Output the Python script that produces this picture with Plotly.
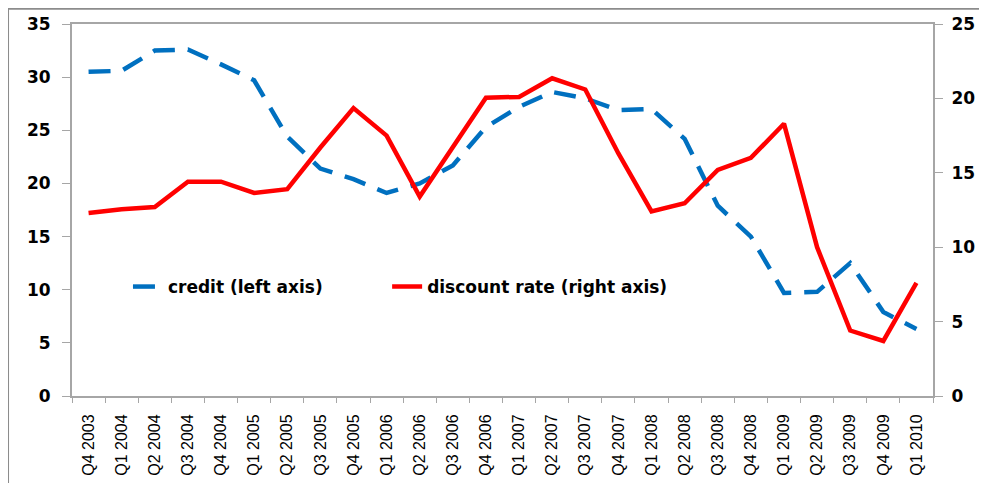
import plotly.graph_objects as go

quarters = ["Q4 2003", "Q1 2004", "Q2 2004", "Q3 2004", "Q4 2004", "Q1 2005", "Q2 2005",
            "Q3 2005", "Q4 2005", "Q1 2006", "Q2 2006", "Q3 2006", "Q4 2006", "Q1 2007",
            "Q2 2007", "Q3 2007", "Q4 2007", "Q1 2008", "Q2 2008", "Q3 2008", "Q4 2008",
            "Q1 2009", "Q2 2009", "Q3 2009", "Q4 2009", "Q1 2010"]

# credit growth, left axis
credit = [30.5, 30.6, 32.5, 32.6, 31.2, 29.7, 24.4, 21.4, 20.4, 19.1, 20.0, 21.7, 25.3,
          27.2, 28.6, 28.0, 26.9, 27.0, 24.2, 17.9, 15.0, 9.7, 9.8, 12.5, 7.9, 6.3]

# discount rate, right axis
discount = [12.3, 12.55, 12.7, 14.4, 14.4, 13.65, 13.9, 16.7, 19.35, 17.5, 13.4, 16.7, 20.05,
            20.1, 21.35, 20.6, 16.3, 12.4, 12.95, 15.2, 16.0, 18.3, 10.0, 4.4, 3.7, 7.6]

axis_grey = "#a6a6a6"
bold_font = dict(family="DejaVu Sans", size=17, color="black", weight="bold")
legend_style = dict(
    orientation="h", y=0.293, xanchor="left", yanchor="middle",
    bgcolor="rgba(0,0,0,0)", font=bold_font,
)

fig = go.Figure()
fig.add_trace(go.Scatter(
    x=quarters, y=credit, name="credit (left axis)", mode="lines",
    line=dict(color="#0070C0", width=4.5, dash="22px,13px"), legend="legend",
))
fig.add_trace(go.Scatter(
    x=quarters, y=discount, name="discount rate (right axis)", mode="lines",
    line=dict(color="#FF0000", width=4.5), yaxis="y2", legend="legend2",
))

# page body has an 8px margin, so the figure is sized/margined to land the plot at 72..933 x 24..396
fig.update_layout(
    width=979, height=475,
    margin=dict(l=64, r=54, t=16, b=87),
    paper_bgcolor="white", plot_bgcolor="white",
    showlegend=True,
    legend=dict(x=0.065, **legend_style),
    legend2=dict(x=0.366, **legend_style),
    xaxis=dict(
        type="category", range=[-0.5, 25.5], automargin=False, showgrid=False,
        showline=True, linecolor=axis_grey, linewidth=2,
        mirror=True, ticks="outside", tickson="boundaries", ticklen=5, tickcolor=axis_grey,
        tickangle=-90, ticklabelstandoff=10,
        tickfont=dict(family="Liberation Sans", size=16, color="black"),
    ),
    yaxis=dict(
        range=[0, 35], dtick=5, automargin=False, showgrid=False, zeroline=False,
        showline=True, linecolor=axis_grey, linewidth=2, ticks="outside", ticklen=8,
        tickcolor=axis_grey, tickfont=bold_font, ticklabelstandoff=8,
    ),
    yaxis2=dict(
        range=[0, 25], dtick=5, overlaying="y", side="right", automargin=False,
        showgrid=False, zeroline=False,
        showline=True, linecolor=axis_grey, linewidth=2, ticks="outside", ticklen=8,
        tickcolor=axis_grey, tickfont=bold_font, ticklabelstandoff=5,
    ),
    shapes=[dict(
        type="rect", xref="paper", yref="paper", x0=-0.0743, x1=1.08, y0=-0.26, y1=1.041,
        line=dict(color="#8c8c8c", width=2), fillcolor="rgba(0,0,0,0)", layer="below",
    )],
)

fig.write_html("out.html")
